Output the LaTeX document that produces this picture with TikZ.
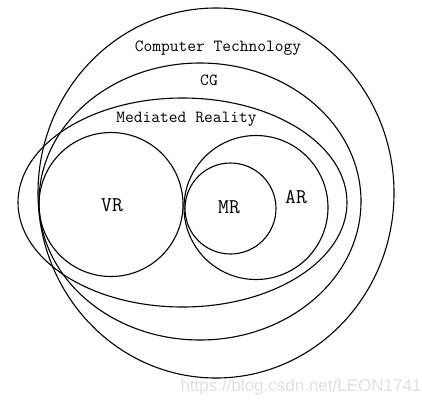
\documentclass[tikz,border=0pt]{standalone}
\usepackage{fontspec}
\newfontfamily\wmfont{Liberation Sans}
\begin{document}
\begin{tikzpicture}[x=1pt,y=-1pt,
  ring/.style={draw=black,line width=1.1pt},
  lbl/.style={font=\fontsize{17}{17}\selectfont\ttfamily,inner sep=0pt},
  big/.style={font=\fontsize{21}{21}\selectfont\ttfamily,inner sep=0pt}]
\useasboundingbox (0,0) rectangle (422,400);
\fill[white] (0,0) rectangle (422,400);
\draw[ring] (216,193) ellipse [x radius=178, y radius=185];
\draw[ring] (200,201.5) ellipse [x radius=161, y radius=138.5];
\draw[ring] (182.5,202.5) ellipse [x radius=164.5, y radius=104.5];
\draw[ring] (111,204.5) circle [radius=72];
\draw[ring] (256,207.5) circle [radius=72];
\draw[ring] (230.5,208.5) circle [radius=45.5];
\node[lbl] (ct) at (218,48) {Computer Technology};
\node[lbl] (cg) at (209,80) {CG};
\node[lbl] (mdr) at (186.5,119) {Mediated Reality};
\node[big] (vr) at (112,205) {VR};
\node[big] (mr) at (229,207) {MR};
\node[big] (ar) at (296,197) {AR};
\node[font=\fontsize{17}{17}\selectfont\wmfont,text=black!12,inner sep=0pt] (wm) at (301,387) {https://blog.csdn.net/LEON1741};
\end{tikzpicture}
\end{document}
